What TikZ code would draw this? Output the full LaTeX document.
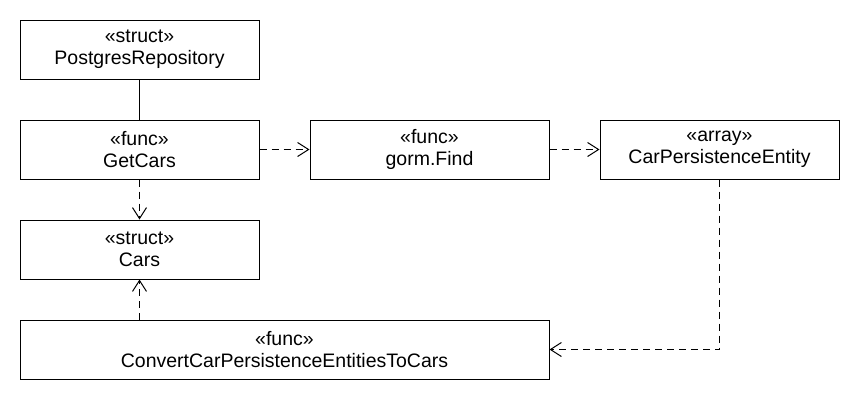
\documentclass[tikz,border=0pt]{standalone}
\usepackage{fontspec}
\setmainfont{Liberation Sans}
\usetikzlibrary{arrows.meta}
\begin{document}
\begin{tikzpicture}[x=1pt,y=-1pt,
  box/.style={draw,line width=1pt,inner sep=0pt,align=center,
    font=\fontsize{19.5}{22}\selectfont},
  dep/.style={draw,line width=1pt,dash pattern=on 7pt off 5pt,
    -{Straight Barb[length=11pt,width=14pt,line width=1pt]}},
  assoc/.style={draw,line width=1pt}]
\useasboundingbox (0,0) rectangle (860,400);
\node[box,minimum width=239pt,minimum height=59pt] (repo) at (139.5,49.5) {«struct»\\PostgresRepository};
\node[box,minimum width=239pt,minimum height=59pt] (get) at (139.5,149.5) {«func»\\GetCars};
\node[box,minimum width=239pt,minimum height=59pt] (find) at (429.5,149.5) {«func»\\gorm.Find};
\node[box,minimum width=239pt,minimum height=59pt] (cpe) at (719.5,149.5) {«array»\\CarPersistenceEntity};
\node[box,minimum width=239pt,minimum height=59pt] (cars) at (139.5,249.5) {«struct»\\Cars};
\node[box,minimum width=529pt,minimum height=59pt] (conv) at (284.5,349.5) {«func»\\ConvertCarPersistenceEntitiesToCars};
\coordinate (bend) at (cpe.south |- conv.east);
\coordinate (convtop) at (cars.south |- conv.north);
\draw[assoc] (repo) -- (get);
\draw[dep] (get) -- (find);
\draw[dep] (find) -- (cpe);
\draw[dep] (get) -- (cars);
\draw[dep] (convtop) -- (cars.south);
\draw[dep] (cpe.south) -- (bend) -- (conv.east);
\end{tikzpicture}
\end{document}
